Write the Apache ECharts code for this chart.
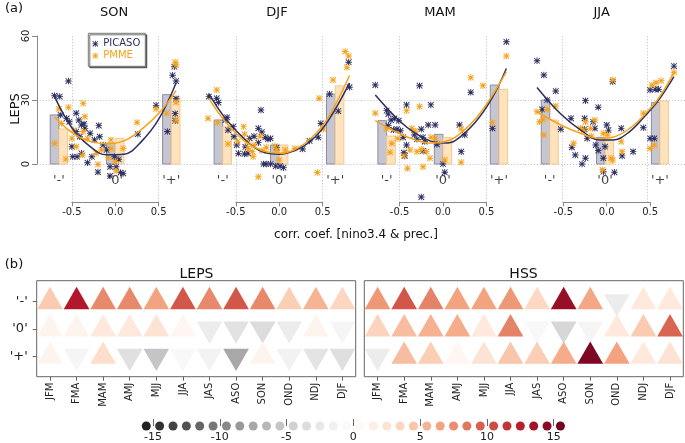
<!DOCTYPE html>
<html><head><meta charset="utf-8">
<script src="https://cdn.jsdelivr.net/npm/echarts@6/dist/echarts.min.js"></script>
<style>html,body{margin:0;padding:0;background:#fff}#c{width:685px;height:443px}</style>
</head><body><div id="c"></div>
<script>
// ---------------- DATA ----------------
const seasons = ['SON', 'DJF', 'MAM', 'JJA'];
const catLabels = ["'-'", "'0'", "'+'"];
const catX = [-0.65, 0, 0.645];

const picasoSON = [[-0.70,32],[-0.64,31.6],[-0.54,38.9],[-0.63,23],[-0.56,21.4],[-0.53,19.8],[-0.45,23.8],[-0.42,20.6],[-0.39,18.3],[-0.36,18.8],[-0.45,15.2],[-0.41,12.8],[-0.35,16.7],[-0.50,8.1],[-0.49,3.4],[-0.44,3.4],[-0.39,5],[-0.32,0.6],[-0.27,3.4],[-0.29,14.4],[-0.24,11.3],[-0.20,-3.8],[-0.19,18],[-0.18,12.8],[-0.14,8.9],[-0.10,6.6],[-0.06,-1.3],[-0.06,-5.6],[-0.01,3.4],[0.01,-1.3],[0.04,2.2],[0.06,-4],[0.09,-4.4],[0.26,14],[0.47,27.5],[0.60,15.2],[0.66,41.6],[0.68,45.6],[0.70,38.9],[0.70,30.6],[0.69,23.6],[0.69,20.3]];
const pmmeSON = [[-0.70,9.7],[-0.65,25.8],[-0.62,19],[-0.54,26.6],[-0.57,2.3],[-0.48,15.9],[-0.50,12],[-0.45,8.1],[-0.37,28.4],[-0.35,22.2],[-0.37,15.2],[-0.32,12],[-0.38,4.2],[-0.22,5],[-0.20,-0.2],[-0.16,6.6],[-0.05,11.3],[-0.05,7.3],[-0.08,3.1],[0,1.1],[0.01,-3.3],[0.09,7.3],[0.25,19.5],[0.47,25.8],[0.59,23.8],[0.69,47.7],[0.70,46.4],[0.70,28.9],[0.70,20.6]];
const picasoDJF = [[-0.81,31.6],[-0.72,30.8],[-0.70,28.8],[-0.62,20.6],[-0.60,21.9],[-0.59,15.9],[-0.53,17.5],[-0.52,12.8],[-0.49,8.9],[-0.47,5],[-0.40,4.7],[-0.36,5],[-0.39,8],[-0.34,12],[-0.29,13],[-0.24,10],[-0.21,25.3],[-0.24,16.7],[-0.20,15],[-0.16,12.5],[-0.13,11.6],[-0.10,12],[-0.18,0],[-0.15,0],[-0.10,0],[-0.04,-1],[0.01,-1],[0.05,-1.7],[-0.03,7.7],[0.27,7],[0.35,10.8],[0.48,19],[0.45,12.5],[0.58,32.8],[0.68,24.8],[0.80,47.7],[0.81,36]];
const pmmeDJF = [[-0.82,21.4],[-0.72,34.7],[-0.71,19.4],[-0.59,9.4],[-0.48,10.5],[-0.41,17.5],[-0.40,14],[-0.37,10.5],[-0.31,5.8],[-0.36,7.3],[-0.29,8.9],[-0.22,13],[-0.24,-6],[-0.30,3.4],[-0.15,7.8],[-0.20,6.3],[-0.05,8.4],[-0.03,6.6],[0,1.9],[0.07,6.6],[0.18,7.3],[0.44,-4],[0.46,30.8],[0.51,16.4],[0.62,39.4],[0.76,52.7],[0.80,50.6],[0.78,45.3]];
const picasoMAM = [[-0.78,37],[-0.65,25],[-0.63,23.4],[-0.60,20.6],[-0.56,21.4],[-0.51,20.3],[-0.63,18],[-0.57,16],[-0.53,16.3],[-0.49,15.6],[-0.42,27.7],[-0.46,12.5],[-0.42,8.9],[-0.45,5.3],[-0.44,3.8],[-0.33,13.6],[-0.30,11.6],[-0.27,36.7],[-0.25,16.3],[-0.23,12.5],[-0.21,10.5],[-0.23,6.1],[-0.17,18.3],[-0.14,27.7],[-0.09,18.3],[-0.07,9.2],[0,0],[0.02,-3.9],[-0.25,-15.5],[0.19,18.3],[0.21,5.8],[0.25,13.6],[0.32,33.6],[0.57,16.7],[0.73,57.3]];
const pmmeMAM = [[-0.78,23.8],[-0.65,16.3],[-0.61,5.5],[-0.59,9.7],[-0.52,12],[-0.42,25],[-0.41,-2],[-0.45,3.8],[-0.38,6.6],[-0.36,16.7],[-0.32,15.5],[-0.27,26.9],[-0.30,5.8],[-0.25,6.9],[-0.23,-1.3],[-0.19,5.8],[-0.15,2.7],[-0.14,12.5],[-0.09,12],[0.02,1.9],[0.21,16.3],[0.21,0.8],[0.32,40.5],[0.46,36.7],[0.57,19.4],[0.73,50.6]];
const picasoJJA = [[-0.80,48.4],[-0.72,41.7],[-0.58,34.2],[-0.68,30],[-0.74,25.6],[-0.52,16.3],[-0.40,21.4],[-0.35,4.2],[-0.39,7.8],[-0.27,0],[-0.24,21.4],[-0.23,29.7],[-0.24,16.3],[-0.21,12],[-0.23,2.7],[-0.14,19.8],[-0.12,16.7],[-0.08,26.6],[-0.11,8.9],[-0.08,6.3],[-0.02,2.7],[-0.02,-3.6],[0,8.1],[0.02,18.3],[0.04,15.9],[0.09,38.6],[0.11,-3.9],[0.19,16.7],[0.20,3.8],[0.33,5.8],[0.45,17],[0.53,34.7],[0.59,35],[0.63,35],[0.53,12],[0.58,12],[0.81,45.9]];
const pmmeJJA = [[-0.80,24.5],[-0.77,19.8],[-0.73,20.9],[-0.72,13.6],[-0.68,25.6],[-0.58,27.2],[-0.37,9.7],[-0.29,16.7],[-0.25,15.9],[-0.23,19.8],[-0.17,16.7],[-0.16,13.1],[-0.12,20.6],[-0.02,14.4],[0.03,13.6],[0.07,2.7],[0.09,1.9],[0.09,39.4],[-0.03,-2.8],[0.19,10.5],[0.20,5.8],[0.45,23.8],[0.53,7.3],[0.58,8.9],[0.55,37],[0.60,38.1],[0.66,39],[0.81,43]];

const fitPicasoSON = [[-0.70,31.6],[-0.50,17],[-0.30,8.5],[-0.10,4.3],[0.10,4.6],[0.30,10.5],[0.50,21],[0.70,38]];
const fitPmmeSON = [[-0.70,22.2],[-0.49,14.5],[-0.29,10.6],[-0.08,9.5],[0.12,11.2],[0.32,16.8],[0.52,24.6],[0.70,34.4]];
const fitPicasoDJF = [[-0.81,33],[-0.62,21.4],[-0.39,11.3],[-0.20,5.8],[0,4.6],[0.18,6.3],[0.37,11],[0.56,20],[0.81,38]];
const fitPmmeDJF = [[-0.81,30.8],[-0.62,19.8],[-0.39,10.5],[-0.20,6.3],[0,5],[0.18,6.8],[0.37,12.2],[0.56,21.5],[0.81,41.5]];
const fitPicasoMAM = [[-0.78,32.3],[-0.51,20.5],[-0.32,14.5],[-0.11,10.3],[0.02,9.8],[0.14,11],[0.37,19.5],[0.56,30.5],[0.73,44.8]];
const fitPmmeMAM = [[-0.78,20.3],[-0.51,14.4],[-0.32,11.3],[-0.13,9.8],[0,10.3],[0.14,12.5],[0.37,21],[0.56,31.6],[0.73,43.3]];
const fitPicasoJJA = [[-0.80,35.9],[-0.52,23.4],[-0.29,16],[-0.06,11.3],[0.09,11.3],[0.29,15.2],[0.48,23],[0.63,30],[0.81,41]];
const fitPmmeJJA = [[-0.80,24.5],[-0.52,18.3],[-0.29,14.4],[-0.06,12],[0.09,12.5],[0.29,16.7],[0.48,23.8],[0.63,30.8],[0.81,42.8]];

// bar heights per season, order '-','0','+'
const barPicasoSON = [23, 9.8, 32.5];
const barPmmeSON = [16.4, 12, 31.5];
const barPicasoDJF = [20.6, 8.9, 32.8];
const barPmmeDJF = [17.5, 8.9, 36.6];
const barPicasoMAM = [20.3, 13.9, 37];
const barPmmeMAM = [13.1, 12.5, 35];
const barPicasoJJA = [30, 12.5, 28.8];
const barPmmeJJA = [20.6, 11.3, 29.5];

// panel (b)
const months = ['JFM','FMA','MAM','AMJ','MJJ','JJA','JAS','ASO','SON','OND','NDJ','DJF'];
const rowLabels = ["'-'", "'0'", "'+'"];
const lepsMinus = [4.2, 12.8, 7.7, 7.7, 6.5, 10, 7.7, 10, 7.7, 4, 5.5, 3.5];
const lepsZero  = [1, 1, 2, 2, 2.5, 0.8, -2, -3, -3.5, -2, 1, -1];
const lepsPlus  = [1, -1, 3, -3.2, -5.5, -0.7, -1.2, -7.5, 1, -1.3, -2.8, -3.3];
const hssMinus  = [7, 10, 8, 6.5, 6.5, 7, 3.3, 14, 6.3, -2, 2, 2];
const hssZero   = [3.7, 5, 5.7, 6, 2, 8, -0.7, -4, -1, 2, 4.2, 9.3];
const hssPlus   = [-2, 5, 4, 0.8, 2.5, 4.5, 4, 6, 15, 6.5, 2, 2.5];

// colour key
const keyValues = [-15.5,-14.5,-13.5,-12.5,-11.5,-10.5,-9.5,-8.5,-7.5,-6.5,-5.5,-4.5,-3.5,-2.5,-1.5,-0.5,0.5,1.5,2.5,3.5,4.5,5.5,6.5,7.5,8.5,9.5,10.5,11.5,12.5,13.5,14.5,15.5];
const keyTicks = [-15, -10, -5, 0, 5, 10, 15];

// ---------------- CHART ----------------
const picasoPts = [picasoSON, picasoDJF, picasoMAM, picasoJJA];
const pmmePts = [pmmeSON, pmmeDJF, pmmeMAM, pmmeJJA];
const fitPicaso = [fitPicasoSON, fitPicasoDJF, fitPicasoMAM, fitPicasoJJA];
const fitPmme = [fitPmmeSON, fitPmmeDJF, fitPmmeMAM, fitPmmeJJA];
const barPicaso = [barPicasoSON, barPicasoDJF, barPicasoMAM, barPicasoJJA];
const barPmme = [barPmmeSON, barPmmeDJF, barPmmeMAM, barPmmeJJA];

const FONT = 'DejaVu Sans';
const NAVY = '#2c2f5f', ORANGE = '#f7a21b';
const STAR = 'path://M4.3,0H5.7V10H4.3Z M0,4.3H10V5.7H0Z M1.2,0.2L9.8,8.8L8.8,9.8L0.2,1.2Z M8.8,0.2L9.8,1.2L1.2,9.8L0.2,8.8Z';
const RDGY = ['#1a1a1a','#4d4d4d','#878787','#bababa','#e0e0e0','#ffffff','#fddbc7','#f4a582','#d6604d','#b2182b','#67001f'];
const C = [115.3, 279.2, 443.0, 606.7], U = 86.8;
const TITLE_X = [114, 277, 440, 601.7];
const AXIS_Y = 202.3;
const YMIN = 60 - (AXIS_Y - 36) / (128 / 60);

const grids = [], xAxes = [], yAxes = [], series = [];
for (let i = 0; i < 4; i++) {
  grids.push({left: C[i] - 0.94 * U, top: 36, width: 1.88 * U, height: AXIS_Y - 36});
  xAxes.push({type: 'value', gridIndex: i, min: -0.94, max: 0.94, show: false});
  yAxes.push({type: 'value', gridIndex: i, min: YMIN, max: 60, show: false});
}
for (let i = 0; i < 4; i++) {
  grids.push({left: C[i] - 0.5 * U, top: AXIS_Y - 1, width: U, height: 1});
  xAxes.push({type: 'value', gridIndex: 4 + i, min: -0.5, max: 0.5, interval: 0.5,
    axisLine: {show: true, lineStyle: {color: '#888'}},
    axisTick: {show: true, length: 4, lineStyle: {color: '#888'}},
    axisLabel: {margin: 5, fontSize: 10, color: '#222', fontFamily: FONT, formatter: v => v.toFixed(1)},
    splitLine: {show: false}});
  yAxes.push({type: 'value', gridIndex: 4 + i, show: false});
}
// y axis of panel (a)
grids.push({left: 37, top: 36, width: 1, height: 128});
xAxes.push({type: 'value', gridIndex: 8, show: false});
yAxes.push({type: 'value', gridIndex: 8, min: 0, max: 60, interval: 30,
  axisLine: {show: true, lineStyle: {color: '#888'}},
  axisTick: {show: true, length: 5, lineStyle: {color: '#888'}},
  axisLabel: {rotate: 90, margin: 6, fontSize: 10, color: '#222', fontFamily: FONT},
  splitLine: {show: false}});
// heat grids
const heatLeft = [36.7, 364.3];
for (let h = 0; h < 2; h++) {
  grids.push({left: heatLeft[h], top: 280.7, width: 319, height: 96, show: true, borderColor: '#666', borderWidth: 1});
  xAxes.push({type: 'category', gridIndex: 9 + h, data: months, boundaryGap: true,
    axisLine: {show: false},
    axisTick: {show: true, alignWithLabel: true, length: 4, lineStyle: {color: '#666'}},
    axisLabel: {rotate: 90, margin: 6, fontSize: 10, color: '#222', fontFamily: FONT}});
  yAxes.push({type: 'value', gridIndex: 9 + h, min: 0.23, max: 3.75, inverse: true,
    axisLine: {show: false}, splitLine: {show: false},
    axisTick: {show: h === 0, length: 4, customValues: [1, 2, 3], lineStyle: {color: '#666'}},
    axisLabel: {show: h === 0, customValues: [1, 2, 3], margin: 9, fontSize: 13, color: '#222', fontFamily: FONT,
      formatter: v => rowLabels[Math.round(v) - 1] || ''}});
}
// key grid
grids.push({left: 139.6, top: 423, width: 427.5, height: 7});
xAxes.push({type: 'value', gridIndex: 11, min: -16, max: 16,
  axisLine: {show: false}, splitLine: {show: false},
  axisTick: {show: true, inside: true, length: 7, customValues: keyTicks, lineStyle: {color: '#666'}},
  axisLabel: {customValues: keyTicks, margin: 3, fontSize: 11, color: '#222', fontFamily: FONT}});
yAxes.push({type: 'value', gridIndex: 11, min: -1, max: 1, show: false});

function barSeries(i, vals, off, fill, stroke) {
  return {type: 'custom', name: 'bar' + i + off, xAxisIndex: i, yAxisIndex: i, silent: true, z: 1,
    data: catX.map((x, k) => [x, vals[k]]),
    renderItem: (params, api) => {
      const x = api.value(0), v = api.value(1);
      const a = api.coord([x + off - 0.05, v]);
      const b = api.coord([x + off + 0.05, 0]);
      return {type: 'rect', shape: {x: a[0], y: a[1], width: b[0] - a[0], height: b[1] - a[1]},
        style: {fill: fill, stroke: stroke, lineWidth: 1}};
    }};
}

for (let i = 0; i < 4; i++) {
  series.push({type: 'scatter', name: 'cat' + i, xAxisIndex: i, yAxisIndex: i, z: 5, silent: true,
    symbolSize: 0,
    data: catX.map((x, k) => ({value: [x, -7.6], name: catLabels[k]})),
    label: {show: true, position: 'inside', formatter: p => p.name, fontSize: 13, color: '#111', fontFamily: FONT},
    markLine: {silent: true, symbol: ['none', 'none'], label: {show: false}, z: 0,
      lineStyle: {type: [1, 2], color: '#bbb', width: 1},
      data: [{yAxis: 0}, {yAxis: 30}, {xAxis: -0.5}, {xAxis: 0.5}]}});
  series.push(barSeries(i, barPicaso[i], -0.05, '#c6c6d2', '#8d8da2'));
  series.push(barSeries(i, barPmme[i], 0.05, '#fee3be', '#f6c88a'));
  series.push({type: 'scatter', name: 'PICASO', xAxisIndex: i, yAxisIndex: i, z: 3, symbol: STAR, symbolSize: 6.5,
    itemStyle: {color: NAVY, opacity: 1}, data: picasoPts[i]});
  series.push({type: 'scatter', name: 'PMME', xAxisIndex: i, yAxisIndex: i, z: 3, symbol: STAR, symbolSize: 6.5,
    itemStyle: {color: ORANGE, opacity: 1}, data: pmmePts[i]});
  series.push({type: 'line', name: 'fitPICASO' + i, xAxisIndex: i, yAxisIndex: i, z: 4, smooth: 0.4, showSymbol: false,
    lineStyle: {color: NAVY, width: 1.5}, data: fitPicaso[i]});
  series.push({type: 'line', name: 'fitPMME' + i, xAxisIndex: i, yAxisIndex: i, z: 4, smooth: 0.4, showSymbol: false,
    lineStyle: {color: ORANGE, width: 1.5}, data: fitPmme[i]});
}

function triData(rowsVals) {
  const out = [];
  rowsVals.forEach((vals, r) => vals.forEach((v, c) => {
    out.push({value: [c, r + 1, v], symbolRotate: v < 0 ? 180 : 0, symbolOffset: [0, v < 0 ? 3.7 : -3.7]});
  }));
  return out;
}
const heatIdx = [];
[[lepsMinus, lepsZero, lepsPlus], [hssMinus, hssZero, hssPlus]].forEach((rows, h) => {
  heatIdx.push(series.length);
  series.push({type: 'scatter', name: h ? 'HSS' : 'LEPS', xAxisIndex: 9 + h, yAxisIndex: 9 + h, silent: true,
    symbol: 'triangle', symbolSize: [25.7, 22.3], itemStyle: {opacity: 1}, data: triData(rows)});
});
const keyIdx = series.length;
series.push({type: 'scatter', name: 'key', xAxisIndex: 11, yAxisIndex: 11, silent: true,
  symbol: 'circle', symbolSize: 9, itemStyle: {opacity: 1}, data: keyValues.map(v => [v, 0])});

const txt = (text, x, y, size, extra) => Object.assign({type: 'text', x: x, y: y, silent: true,
  style: {text: text, fontSize: size, fontFamily: FONT, fill: '#111', align: 'center', verticalAlign: 'middle'}}, extra || {});

const graphics = [
  txt('(a)', 14, 9, 13),
  txt('(b)', 14, 265, 13),
  txt('LEPS', 16, 109, 13, {rotation: Math.PI / 2}),
  txt('corr. coef. [nino3.4 & prec.]', 356, 235, 12),
  txt('LEPS', 196.5, 274.5, 14),
  txt('HSS', 523.5, 274.5, 14)
];
seasons.forEach((s, i) => graphics.push(txt(s, TITLE_X[i], 12.7, 13)));

const chart = echarts.init(document.getElementById('c'), null, {renderer: 'canvas', width: 685, height: 443});
chart.setOption({
  animation: false,
  backgroundColor: '#fff',
  textStyle: {fontFamily: FONT},
  grid: grids, xAxis: xAxes, yAxis: yAxes,
  legend: {left: 88.3, top: 33.3, orient: 'vertical', selectedMode: false,
    data: [{name: 'PICASO', icon: STAR, textStyle: {color: NAVY}}, {name: 'PMME', icon: STAR, textStyle: {color: ORANGE}}],
    itemWidth: 6, itemHeight: 6, itemGap: 1, padding: [5, 5, 5, 4],
    borderColor: '#777', borderWidth: 1, backgroundColor: '#fff',
    shadowColor: 'rgba(0,0,0,0.55)', shadowOffsetX: 1.5, shadowOffsetY: 1.5, shadowBlur: 0,
    textStyle: {fontSize: 10, lineHeight: 11, fontFamily: FONT}},
  visualMap: [
    {type: 'continuous', show: false, dimension: 2, seriesIndex: heatIdx, min: -16, max: 16, inRange: {color: RDGY}},
    {type: 'continuous', show: false, dimension: 0, seriesIndex: [keyIdx], min: -16, max: 16, inRange: {color: RDGY}}
  ],
  graphic: graphics,
  series: series
});
</script>
</body></html>
